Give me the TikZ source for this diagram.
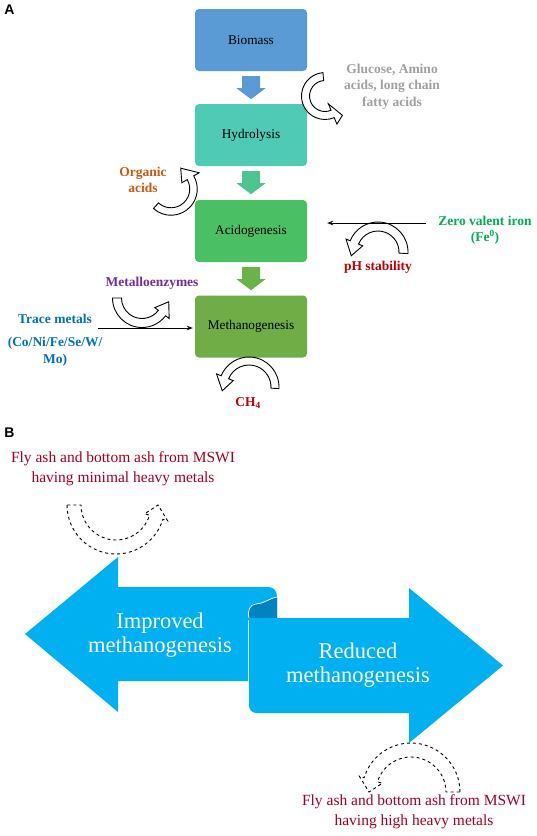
\documentclass[tikz,border=0pt]{standalone}
\usepackage{fontspec}
\setmainfont{Liberation Serif}
\newfontfamily\labfont{Liberation Sans}
\usetikzlibrary{arrows.meta,calc}
\definecolor{cBio}{HTML}{5B9BD5}
\definecolor{cHyd}{HTML}{4FCAB5}
\definecolor{cAci}{HTML}{4BBF63}
\definecolor{cMet}{HTML}{70AD47}
\definecolor{cArTwo}{HTML}{4EC48E}
\definecolor{cArThree}{HTML}{6AB348}
\definecolor{cGray}{HTML}{A0A0A0}
\definecolor{cOrg}{HTML}{C55A11}
\definecolor{cZvi}{HTML}{00B050}
\definecolor{cRed}{HTML}{C00000}
\definecolor{cPur}{HTML}{7030A0}
\definecolor{cBlu}{HTML}{0070C0}
\definecolor{cAsh}{HTML}{A50021}
\definecolor{cCyan}{HTML}{00B0F0}
\definecolor{cCurl}{HTML}{0083C0}
\tikzset{
  procbox/.style={rounded corners=4pt, minimum width=112pt, minimum height=62pt, inner sep=0pt, font=\fontsize{13.3}{15}\selectfont},
  lab/.style={font=\bfseries\fontsize{13.5}{16.5}\selectfont, align=center, inner sep=0pt},
  panel/.style={font=\labfont\bfseries\fontsize{14}{16}\selectfont, inner sep=0pt},
  curvedarrow/.style={draw=black, line width=0.9pt, fill=white, line join=miter},
  dashedarrow/.style={draw=black, line width=0.9pt, fill=white, dashed},
  thinarrow/.style={draw=black, line width=0.8pt, -{Stealth[length=6pt,width=4.5pt]}},
  ash/.style={font=\fontsize{15.5}{20}\selectfont, text=cAsh, align=center, inner sep=0pt},
  bigtext/.style={font=\fontsize{22.5}{24}\selectfont, text=white, align=center, inner sep=0pt}
}
% curved block arrow: [style]{center}{r}{w}{a1}{a2}{atip}{h}{rtip}
\newcommand\cbarrow[9][]{%
  \pgfmathsetmacro\cbro{#3+#4/2}%
  \pgfmathsetmacro\cbri{#3-#4/2}%
  \pgfmathsetmacro\cbho{#3+#8}%
  \pgfmathsetmacro\cbhi{#3-#8}%
  \draw[curvedarrow,#1,shift={(#2)}] (#5:\cbro) arc[start angle=#5,end angle=#6,radius=\cbro]
    -- (#6:\cbho) -- (#7:#9) -- (#6:\cbhi) -- (#6:\cbri)
    arc[start angle=#6,end angle=#5,radius=\cbri] -- cycle;}
% block arrow between two boxes
\newcommand\blockarr[3]{%
  \fill[#3,shift={($(#1.south)+(0,-5)$)}] (-9,0) -- (9,0) -- (9,-12) -- (14.5,-12) -- (0,-23) -- (-14.5,-12) -- (-9,-12) -- cycle;}
\begin{document}
\begin{tikzpicture}[x=1pt,y=1pt]
\useasboundingbox (0,0) rectangle (536,-836);
\fill[white] (0,0) rectangle (536,-836);

% ---------- Panel A ----------
\node[panel] (pa) at (9.5,-10) {A};
\node[procbox, fill=cBio] (bio) at (251,-40) {Biomass};
\node[procbox, fill=cHyd] (hyd) at (251,-135) {Hydrolysis};
\node[procbox, fill=cAci] (aci) at (251,-231) {Acidogenesis};
\node[procbox, fill=cMet] (met) at (251,-326.5) {Methanogenesis};
\blockarr{bio}{hyd}{cBio}
\blockarr{hyd}{aci}{cArTwo}
\blockarr{aci}{met}{cArThree}

\node[lab, text=cGray] (glu) at (392,-86.5) {Glucose, Amino\\acids, long chain\\fatty acids};
\node[lab, text=cOrg] (org) at (143,-180) {Organic\\acids};
\node[lab, text=cZvi] (zvi) at (485,-230) {Zero valent iron\\(Fe\textsuperscript{0})};
\node[lab, text=cRed] (ph) at (378,-267) {pH stability};
\node[lab, text=cPur] (mez) at (152,-283) {Metalloenzymes};
\node[lab, text=cBlu] (trm) at (55,-319) {Trace metals};
\node[lab, text=cBlu] (cmp) at (55,-351.5) {(Co/Ni/Fe/Se/W/\\Mo)};
\node[lab, text=cRed] (chf) at (248,-403) {CH\textsubscript{4}};

\cbarrow{325,-96}{19.5}{8}{95}{293}{312}{11}{26}
\cbarrow{171,-189}{22.5}{7.5}{228}{390}{425}{10}{23}
\cbarrow{378,-252}{25.5}{9}{-3}{158}{188}{9}{27}
\cbarrow{142,-298}{25}{9}{180}{323}{352}{9}{27}
\cbarrow{249,-387}{26}{8}{-3}{158}{188}{9}{27}

\coordinate (zs) at (426,-223);
\coordinate (ts) at (98,-328);
\draw[thinarrow, shorten >=20pt] (zs) -- (zs -| aci.east);
\draw[thinarrow, shorten >=2pt] (ts) -- (ts -| met.west);

% ---------- Panel B ----------
\node[panel] (pb) at (9.5,-433) {B};
% left arrow
\fill[cCyan] (25,-634) -- (118,-557) -- (118,-587) -- (268,-587)
  .. controls (274,-587) and (277,-591) .. (277,-597) -- (277,-620) -- (248,-620)
  -- (248,-681) -- (118,-681) -- (118,-712) -- cycle;
% scroll curl
\fill[cCurl] (277,-597) .. controls (270,-598) and (263,-604) .. (256,-604)
  .. controls (250,-604) and (247,-611) .. (249,-618) -- (277,-618) -- cycle;
% right arrow
\fill[cCyan] (249,-618) -- (409,-618) -- (409,-588) -- (503,-665.5) -- (409,-743)
  -- (409,-713) -- (257,-713) .. controls (252,-713) and (249,-710) .. (249,-705) -- cycle;
\draw[white, line width=0.7pt] (249,-618) .. controls (247,-611) and (250,-604) .. (256,-604)
  .. controls (263,-604) and (270,-598) .. (277,-597);

\node[bigtext] (imp) at (160,-635) {Improved\\methanogenesis};
\node[bigtext] (red) at (358,-665) {Reduced\\methanogenesis};

\cbarrow[dashedarrow]{116,-505}{42}{14}{180}{343}{360}{12}{42}
\cbarrow[dashedarrow]{411,-792}{42}{14}{0}{163}{180}{12}{42}

\node[ash] (ashtop) at (123,-469) {Fly ash and bottom ash from MSWI\\having minimal heavy metals};
\node[ash] (ashbot) at (414,-812) {Fly ash and bottom ash from MSWI\\having high heavy metals};
\end{tikzpicture}
\end{document}
